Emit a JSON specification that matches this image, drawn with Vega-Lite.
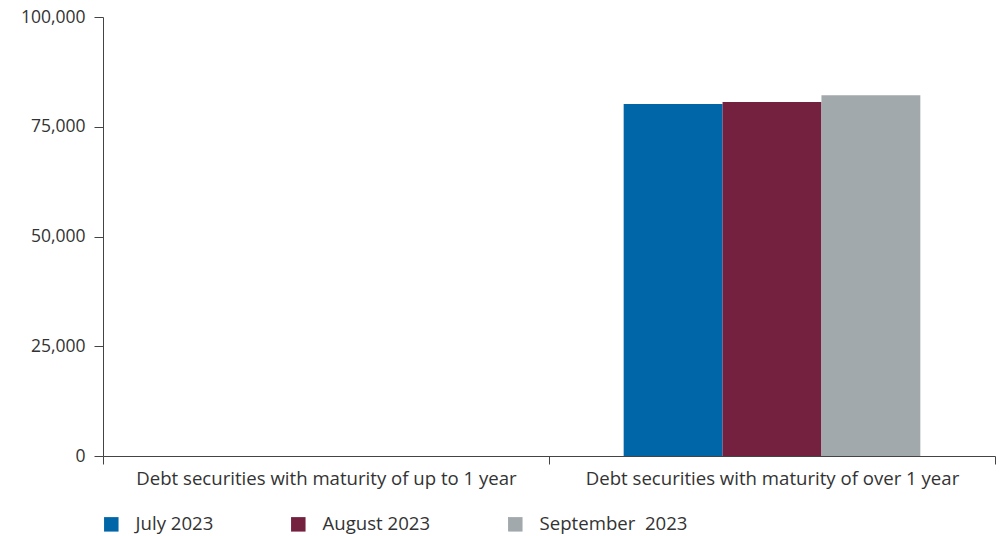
{
  "$schema": "https://vega.github.io/schema/vega-lite/v6.json",
  "autosize": "none",
  "width": 892,
  "height": 439,
  "padding": {"left": 103, "top": 17, "right": 5, "bottom": 80},
  "background": "white",
  "data": {"values": [
    {"category": "Debt securities with maturity of up to 1 year", "month": "July 2023", "value": 0},
    {"category": "Debt securities with maturity of up to 1 year", "month": "August 2023", "value": 0},
    {"category": "Debt securities with maturity of up to 1 year", "month": "September \u00a02023", "value": 0},
    {"category": "Debt securities with maturity of over 1 year", "month": "July 2023", "value": 80200},
    {"category": "Debt securities with maturity of over 1 year", "month": "August 2023", "value": 80650},
    {"category": "Debt securities with maturity of over 1 year", "month": "September \u00a02023", "value": 82200}
  ]},
  "mark": {"type": "bar"},
  "encoding": {
    "x": {
      "field": "category", "type": "nominal", "sort": null,
      "scale": {"paddingInner": 0, "paddingOuter": 0},
      "axis": {"title": null, "labelAngle": 0, "tickBand": "extent", "tickSize": 8, "labelPadding": 5,
               "labelFont": "Open Sans", "labelFontSize": 18.6, "labelColor": "#333333",
               "domainColor": "#444444", "tickColor": "#444444", "labelLimit": 1000}
    },
    "xOffset": {
      "field": "month", "type": "nominal", "sort": null,
      "scale": {"paddingInner": 0, "paddingOuter": 0.755}
    },
    "y": {
      "field": "value", "type": "quantitative",
      "scale": {"domain": [0, 100000], "nice": false},
      "axis": {"title": null, "values": [0, 25000, 50000, 75000, 100000], "format": ",.0f", "grid": false,
               "tickSize": 9, "labelPadding": 9, "labelFont": "Open Sans", "labelFontSize": 17.5, "labelColor": "#333333",
               "domainColor": "#444444", "tickColor": "#444444"}
    },
    "color": {
      "field": "month", "type": "nominal", "sort": null,
      "scale": {"range": ["#0066a8", "#73213f", "#a2a9ac"]},
      "legend": {"title": null, "orient": "none", "legendX": -1, "legendY": 498, "direction": "horizontal",
                 "symbolType": "square", "symbolSize": 210, "symbolStrokeWidth": 0, "symbolOpacity": 1,
                 "labelFont": "Open Sans", "labelFontSize": 18.6, "labelColor": "#333333", "labelOffset": 15,
                 "columnPadding": 75}
    }
  },
  "config": {"view": {"stroke": null}}
}
